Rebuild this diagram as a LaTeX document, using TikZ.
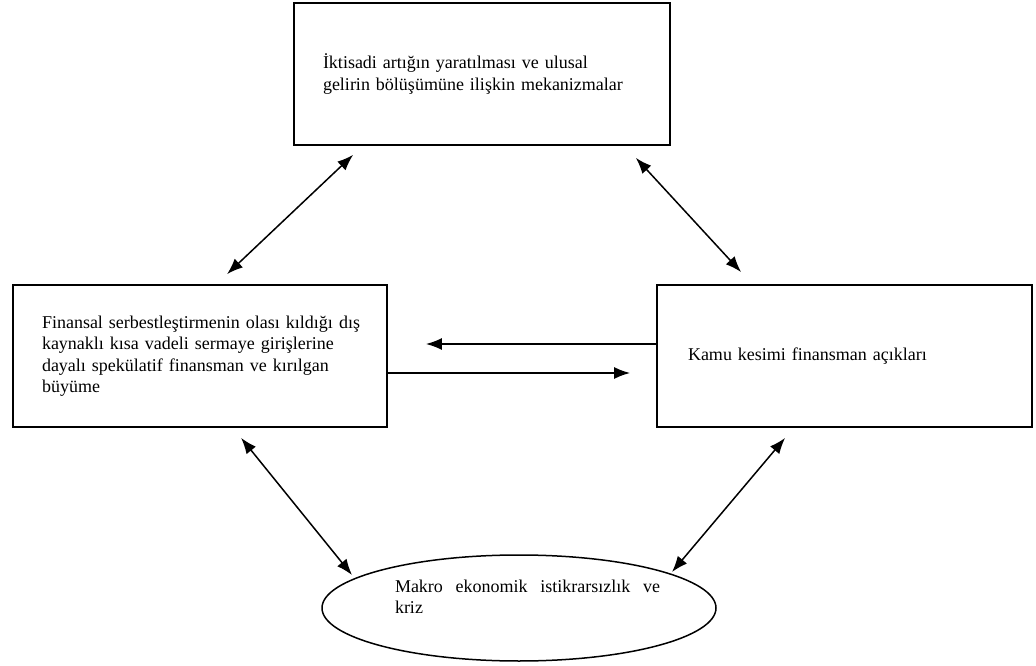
\documentclass[tikz,border=0pt]{standalone}
\usepackage{fontspec}
\setmainfont{Liberation Serif}
\usetikzlibrary{positioning}
\usetikzlibrary{shapes.geometric}
\usetikzlibrary{arrows.meta}
\tikzset{% kutular ve oklar
  kutu/.style = {draw, rectangle, line width=1.8pt, inner sep=0pt, align=left, minimum height=142pt},
  yazi/.style = {inner sep=0pt, align=left},
  ucok/.style = {line width=1.5pt, {Latex[length=16pt,width=12pt]}-{Latex[length=16pt,width=12pt]}},
  tekok/.style = {line width=1.5pt, -{Latex[length=16pt,width=12pt]}}
}

\begin{document}
\begin{tikzpicture}[x=1pt,y=1pt,font=\fontsize{18}{21.5}\selectfont]
 \useasboundingbox (0,0) rectangle (1036,665);
 \node[kutu, minimum width=376pt, text width=318pt] (artik) at (482,591)
   {İktisadi artığın yaratılması ve ulusal\\gelirin bölüşümüne ilişkin mekanizmalar};
 \node[kutu, minimum width=374pt, text width=316pt] (finans) at (200,309)
   {\mbox{Finansal serbestleştirmenin olası kıldığı dış}\\kaynaklı kısa vadeli sermaye girişlerine\\dayalı spekülatif finansman ve kırılgan\\büyüme};
 \node[kutu, minimum width=375pt, text width=313pt] (kamu) at (844.5,309)
   {Kamu kesimi finansman açıkları};
 \node[draw, ellipse, line width=1.5pt, minimum width=394pt, minimum height=106pt] (kriz) at (519,57) {};
 \node[yazi, text width=265pt, align=justify] (krizyazi) at (527.5,68)
   {Makro ekonomik istikrarsızlık ve\linebreak kriz};
 \draw[ucok] ([xshift=60pt,yshift=-9pt]artik.south west) -- ([xshift=215pt,yshift=10pt]finans.north west);
 \draw[ucok] ([xshift=-35pt,yshift=-12pt]artik.south east) -- ([xshift=85pt,yshift=12pt]kamu.north west);
 \draw[tekok] ([yshift=12pt]kamu.west) -- ([xshift=38pt,yshift=12pt]finans.east);
 \draw[tekok] ([yshift=-17pt]finans.east) -- ([xshift=-26pt,yshift=-17pt]kamu.west);
 \draw[ucok] ([xshift=229pt,yshift=-10pt]finans.south west) -- ([xshift=-167pt,yshift=33pt]kriz.center);
 \draw[ucok] ([xshift=129pt,yshift=-10pt]kamu.south west) -- ([xshift=153pt,yshift=36pt]kriz.center);
\end{tikzpicture}
\end{document}
